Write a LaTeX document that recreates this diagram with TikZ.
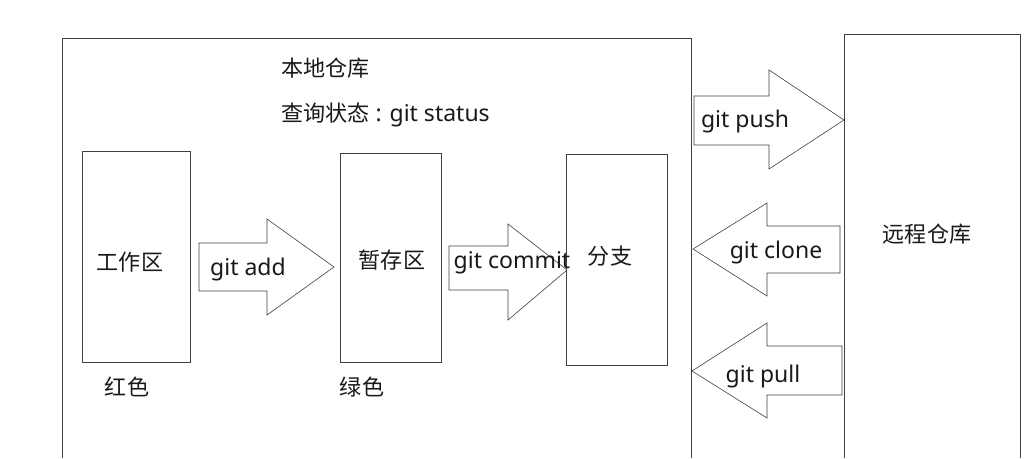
\documentclass[tikz,border=0pt]{standalone}
\usepackage{fontspec}
\setmainfont{Noto Sans}
\newfontfamily\cjk[Scale=0.96]{Noto Sans CJK SC}
\usetikzlibrary{positioning}
\tikzset{
  box/.style={draw=linegray, line width=0.8pt, inner sep=0pt},
  fatarrow/.style={draw=linegray, line width=0.6pt, fill=white},
  txt/.style={font=\fontsize{23}{27}\selectfont, text=black!90, inner sep=0pt}
}
\definecolor{linegray}{HTML}{404040}
\begin{document}
\begin{tikzpicture}[x=1pt, y=-1pt, line join=miter]
\useasboundingbox[fill=white] (0,0) rectangle (1033,458);
% local and remote repository frames
\draw[box] (62,458) -- (62,38) -- (691,38) -- (691,458);
\draw[box] (844,458) -- (844,34) -- (1020,34) -- (1020,458);
\node[txt, anchor=west] (local) at (281,68) {\cjk 本地仓库};
\node[txt, anchor=west] (status) at (281,115) {{\cjk 查询状态} : git status};
\node[txt] (remote) at (927,234) {\cjk 远程仓库};
% the three areas
\node[box, minimum width=108pt, minimum height=211pt] (work) at (136,256.5) {};
\node[box, minimum width=101pt, minimum height=209pt] (stage) at (390.5,257.5) {};
\node[box, minimum width=101pt, minimum height=211pt] (branch) at (616.5,259.5) {};
\node[txt] (worktxt) at (130,262) {\cjk 工作区};
\node[txt] (stagetxt) at (392,260) {\cjk 暂存区};
\node[txt] (branchtxt) at (610,256) {\cjk 分支};
\node[txt] (red) at (127,387) {\cjk 红色};
\node[txt] (green) at (362,387) {\cjk 绿色};
% block arrows
\draw[fatarrow] (199,243) -- (267,243) -- (267,219) -- (334,267) -- (267,315) -- (267,291) -- (199,291) -- cycle;
\draw[fatarrow] (449,246) -- (508,246) -- (508,224) -- (567,270) -- (508,320) -- (508,290) -- (449,290) -- cycle;
\draw[fatarrow] (694,96) -- (769,96) -- (769,70) -- (844,120) -- (769,169) -- (769,145) -- (694,145) -- cycle;
\draw[fatarrow] (840,226) -- (767,226) -- (767,203) -- (693,249) -- (767,296) -- (767,273) -- (840,273) -- cycle;
\draw[fatarrow] (842,346) -- (767,346) -- (767,323) -- (692,371) -- (767,418) -- (767,395) -- (842,395) -- cycle;
\node[txt] (add) at (248,270) {git add};
\node[txt] (commit) at (512,263) {git commit};
\node[txt] (push) at (745,122) {git push};
\node[txt] (clone) at (776,253) {git clone};
\node[txt] (pull) at (763,377) {git pull};
\end{tikzpicture}
\end{document}
